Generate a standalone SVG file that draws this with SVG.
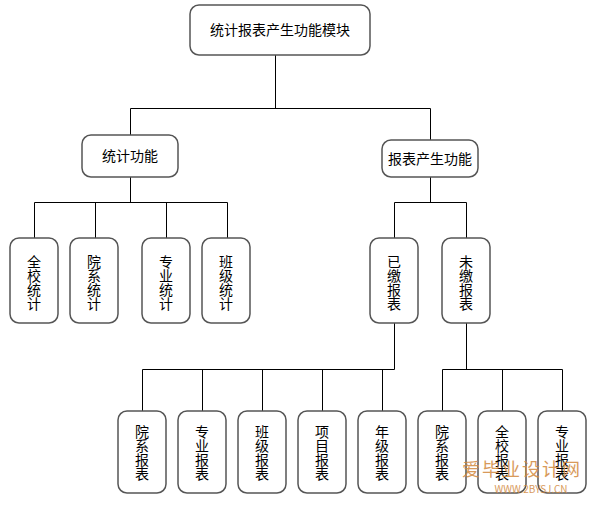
<svg xmlns="http://www.w3.org/2000/svg" width="590" height="505" viewBox="0 0 590 505">
<style>
.box{fill:#fff;stroke:#555;stroke-width:1.5}
.ln{fill:none;stroke:#000;stroke-width:1}
.t{font-family:"Noto Sans CJK SC","Noto Sans",sans-serif;font-size:14px;fill:#000;text-anchor:middle}
.v{font-family:"Noto Sans CJK SC","Noto Sans",sans-serif;font-size:14px;fill:#000;text-anchor:middle;writing-mode:vertical-rl;text-orientation:upright}
.wm{font-family:"Noto Sans CJK SC",sans-serif;fill:#d2893e;opacity:0.85}
</style>
<rect width="590" height="505" fill="#fff"/>
<g id="connectors">
<path class="ln" d="M275.5 55V108.5M130.5 108.5H430.5M130.5 108.5V135M430.5 108.5V140"/>
<path class="ln" d="M130.5 177V202.5M34.5 202.5H227.5M34.5 202.5V238M95.5 202.5V238M166.5 202.5V238M227.5 202.5V238"/>
<path class="ln" d="M430.5 177V202.5M394.5 202.5H466.5M394.5 202.5V238M466.5 202.5V238"/>
<path class="ln" d="M394.5 323V369.5M142.5 369.5H394.5M142.5 369.5V411M202.5 369.5V411M262.5 369.5V411M322.5 369.5V411M382.5 369.5V411"/>
<path class="ln" d="M466.5 323V369.5M442.5 369.5H562.5M442.5 369.5V411M502.5 369.5V411M562.5 369.5V411"/>
</g>
<g id="root"><rect class="box" x="190" y="5" width="180" height="50" rx="9"/><text class="t" x="280" y="35">统计报表产生功能模块</text></g>
<g id="stat"><rect class="box" x="82" y="135" width="96" height="42" rx="9"/><text class="t" x="130" y="161">统计功能</text></g>
<g id="report"><rect class="box" x="382" y="140" width="96" height="37" rx="9"/><text class="t" x="430" y="164">报表产生功能</text></g>
<g id="s1"><rect class="box" x="10" y="238" width="48" height="85" rx="9"/><text class="v" x="34" y="283"><tspan>全</tspan><tspan>校</tspan><tspan>统</tspan><tspan>计</tspan></text></g>
<g id="s2"><rect class="box" x="70" y="238" width="48" height="85" rx="9"/><text class="v" x="94" y="283"><tspan>院</tspan><tspan>系</tspan><tspan>统</tspan><tspan>计</tspan></text></g>
<g id="s3"><rect class="box" x="142" y="238" width="48" height="85" rx="9"/><text class="v" x="166" y="283"><tspan>专</tspan><tspan>业</tspan><tspan>统</tspan><tspan>计</tspan></text></g>
<g id="s4"><rect class="box" x="202" y="238" width="48" height="85" rx="9"/><text class="v" x="226" y="283"><tspan>班</tspan><tspan>级</tspan><tspan>统</tspan><tspan>计</tspan></text></g>
<g id="paid"><rect class="box" x="370" y="238" width="48" height="85" rx="9"/><text class="v" x="394" y="283"><tspan>已</tspan><tspan>缴</tspan><tspan>报</tspan><tspan>表</tspan></text></g>
<g id="unpaid"><rect class="box" x="442" y="238" width="48" height="85" rx="9"/><text class="v" x="466" y="283"><tspan>未</tspan><tspan>缴</tspan><tspan>报</tspan><tspan>表</tspan></text></g>
<g id="p1"><rect class="box" x="118" y="411" width="48" height="82" rx="9"/><text class="v" x="142" y="453"><tspan>院</tspan><tspan>系</tspan><tspan>报</tspan><tspan>表</tspan></text></g>
<g id="p2"><rect class="box" x="178" y="411" width="48" height="82" rx="9"/><text class="v" x="202" y="453"><tspan>专</tspan><tspan>业</tspan><tspan>报</tspan><tspan>表</tspan></text></g>
<g id="p3"><rect class="box" x="238" y="411" width="48" height="82" rx="9"/><text class="v" x="262" y="453"><tspan>班</tspan><tspan>级</tspan><tspan>报</tspan><tspan>表</tspan></text></g>
<g id="p4"><rect class="box" x="298" y="411" width="48" height="82" rx="9"/><text class="v" x="322" y="453"><tspan>项</tspan><tspan>目</tspan><tspan>报</tspan><tspan>表</tspan></text></g>
<g id="p5"><rect class="box" x="358" y="411" width="48" height="82" rx="9"/><text class="v" x="382" y="453"><tspan>年</tspan><tspan>级</tspan><tspan>报</tspan><tspan>表</tspan></text></g>
<g id="u1"><rect class="box" x="418" y="411" width="48" height="82" rx="9"/><text class="v" x="442" y="453"><tspan>院</tspan><tspan>系</tspan><tspan>报</tspan><tspan>表</tspan></text></g>
<g id="u2"><rect class="box" x="478" y="411" width="48" height="82" rx="9"/><text class="v" x="502" y="453"><tspan>全</tspan><tspan>校</tspan><tspan>报</tspan><tspan>表</tspan></text></g>
<g id="u3"><rect class="box" x="538" y="411" width="48" height="82" rx="9"/><text class="v" x="562" y="453"><tspan>专</tspan><tspan>业</tspan><tspan>报</tspan><tspan>表</tspan></text></g>
<g id="watermark">
<text class="wm" x="522" y="476" font-size="18" text-anchor="middle" letter-spacing="2">爱毕业设计网</text>
<text class="wm" x="531" y="493" font-size="10" text-anchor="middle" font-family="Liberation Sans,sans-serif">WWW.2BYSJ.CN</text>
</g>
</svg>
